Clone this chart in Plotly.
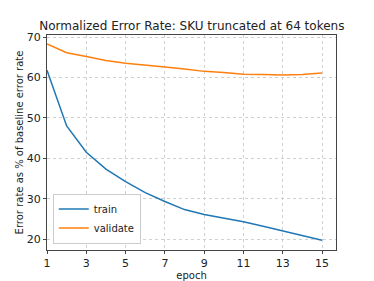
import plotly.graph_objects as go

epochs = list(range(1, 16))
train = [61.8, 48.0, 41.5, 37.3, 34.2, 31.5, 29.3, 27.3, 26.1, 25.2, 24.3, 23.2, 22.0, 20.8, 19.7]
validate = [68.3, 66.1, 65.2, 64.2, 63.5, 63.1, 62.6, 62.1, 61.5, 61.2, 60.8, 60.7, 60.6, 60.7, 61.1]
x_ticks = [1, 3, 5, 7, 9, 11, 13, 15]
y_ticks = [20, 30, 40, 50, 60, 70]

fig = go.Figure()
fig.add_trace(go.Scatter(x=epochs, y=train, mode="lines", name="train",
                         line=dict(color="#1f77b4", width=1.5)))
fig.add_trace(go.Scatter(x=epochs, y=validate, mode="lines", name="validate",
                         line=dict(color="#ff7f0e", width=1.5)))

axis_common = dict(showline=True, mirror=True, linecolor="#444", linewidth=1,
                   ticks="outside", ticklen=3, tickcolor="#444", automargin=False,
                   showgrid=True, gridcolor="#d0d0d0", griddash="dot", gridwidth=1,
                   zeroline=False, tickfont=dict(size=11, color="#222"))

fig.update_layout(
    width=374, height=281,
    margin=dict(l=47, r=38, t=35, b=31),
    paper_bgcolor="white", plot_bgcolor="white",
    font=dict(family="DejaVu Sans", size=10, color="#222"),
    title=dict(text="Normalized Error Rate: SKU truncated at 64 tokens",
               x=0.513, xanchor="center", y=0.893, yanchor="bottom",
               font=dict(size=12, color="#222"), automargin=False),
    xaxis=dict(range=[1, 15.71], tickvals=x_ticks,
               title=dict(text="epoch", font=dict(size=10), standoff=4), **axis_common),
    yaxis=dict(range=[17.3, 70.5], tickvals=y_ticks,
               title=dict(text="Error rate as % of baseline error rate", font=dict(size=10), standoff=1),
               **axis_common),
    legend=dict(x=0.02, y=0.03, xanchor="left", yanchor="bottom",
                bordercolor="#ccc", borderwidth=1, bgcolor="white",
                font=dict(size=10), tracegroupgap=0, itemwidth=30),
    showlegend=True,
)

fig.write_html("out.html", config={"displayModeBar": False},
               post_script="document.body.style.margin='0';")
